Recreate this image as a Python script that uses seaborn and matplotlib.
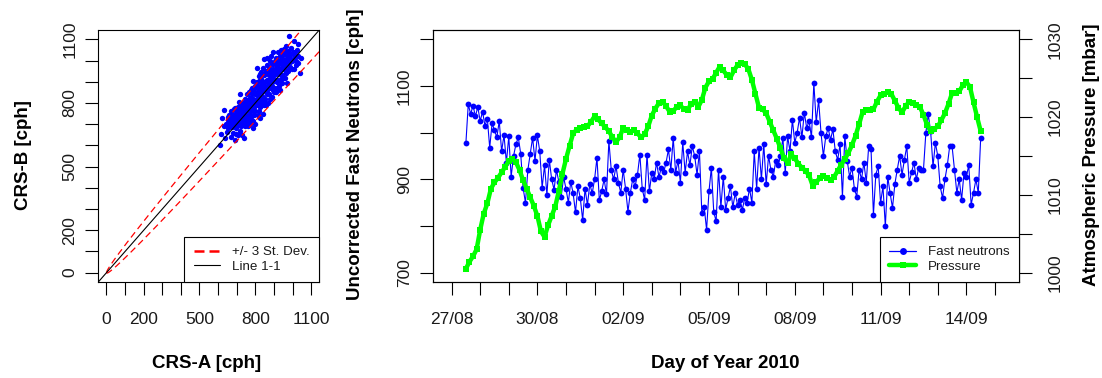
import numpy as np
import pandas as pd
import matplotlib
matplotlib.use("Agg")
import matplotlib.pyplot as plt
import matplotlib.dates as mdates
from matplotlib.lines import Line2D
import seaborn as sns

# ------------------------------------------------------------------ data
# scatter: CRS-A vs CRS-B counts [cph]
crs_a = [609, 622, 630, 639, 615, 645, 632, 648,
         652, 655, 660, 663, 668, 670, 672, 675, 678, 681, 684, 687, 690, 692, 695, 697, 699, 694,
         701, 703, 705, 707, 709, 711, 713, 715, 717, 719, 720, 722, 724, 726, 728, 730, 732, 734,
         737, 739, 741, 743, 745, 747, 749,
         751, 752, 754, 756, 758, 760, 762, 764, 766, 768, 770, 771, 773, 775, 777, 779, 781, 783,
         785, 787, 789, 790, 792, 794, 795, 797, 798, 799, 776, 786,
         801, 803, 805, 807, 809, 811, 813, 815, 817, 819, 821, 823, 825, 827, 829, 831, 833, 835,
         837, 839, 841, 843, 845, 846, 847, 848, 849, 842, 826, 834, 812, 818,
         851, 853, 855, 857, 859, 861, 863, 865, 867, 869, 871, 873, 875, 877, 879, 880, 882, 884,
         886, 888, 890, 892, 894, 896, 898, 899, 862, 872, 885, 893,
         901, 903, 905, 907, 909, 911, 913, 915, 917, 919, 921, 923, 925, 927, 929, 931, 933, 935,
         937, 939, 941, 943, 945, 947, 949,
         952, 954, 956, 958, 960, 962, 964, 966, 968, 970, 972, 975, 978, 979, 982, 985, 990, 995,
         1002, 1006, 1010, 1015, 1020, 1025, 1032, 1041, 1048, 1030,
         655, 662, 667, 674, 679, 683, 688, 693, 698, 702, 706, 710, 714, 718, 721, 725, 729, 733,
         736, 740, 744, 748, 753, 757, 761, 765, 769, 772, 776, 780, 784, 788, 791, 796, 800, 804,
         808, 812, 816, 820, 824, 828, 832, 836, 840, 844, 848, 852, 856, 860, 864, 868, 872, 876,
         880, 884, 888, 892, 896, 900, 904, 908, 912, 916, 920, 924, 928, 932, 936, 940, 944, 948,
         953, 957, 961, 965, 969, 974, 980, 986, 992, 998, 1004, 1012, 1018, 1028]
crs_b = [600, 730, 769, 635, 655, 700, 690, 662,
         720, 680, 745, 700, 640, 760, 710, 685, 735, 660, 770, 715, 627, 745, 700, 680, 760, 655,
         725, 690, 780, 650, 745, 700, 805, 720, 670, 760, 840, 735, 690, 780, 710, 650, 800, 745,
         635, 770, 715, 820, 690, 760, 735,
         800, 705, 780, 840, 730, 690, 810, 760, 715, 850, 790, 745, 700, 830, 770, 735, 870, 800,
         680, 760, 820, 715, 850, 780, 745, 880, 700, 810, 860, 905,
         760, 840, 790, 900, 966, 820, 745, 870, 800, 760, 850, 910, 780, 730, 880, 820, 945, 790,
         860, 750, 900, 830, 1006, 870, 790, 930, 810, 965, 935, 890, 875, 925,
         880, 820, 950, 860, 790, 910, 840, 980, 870, 800, 930, 890, 840, 1000, 900, 817, 950, 870,
         920, 830, 985, 900, 860, 960, 910, 850, 1010, 960, 1020, 1040,
         930, 870, 990, 910, 850, 960, 1010, 900, 870, 980, 940, 1040, 880, 960, 1000, 910, 860, 990,
         1050, 930, 895, 1010, 960, 1030, 920,
         1053, 960, 1000, 920, 1030, 980, 1070, 940, 1010, 895, 990, 1045, 950, 1116, 1020, 970, 1060, 1000,
         1040, 960, 1090, 1021, 980, 1050, 990, 943, 1010, 1080,
         735, 690, 725, 755, 700, 745, 690, 775, 730, 760, 715, 770, 745, 700, 790, 755, 725, 775,
         700, 790, 750, 800, 770, 815, 740, 790, 825, 760, 805, 845, 775, 860, 800, 840, 875, 815,
         850, 790, 900, 835, 870, 805, 915, 850, 880, 820, 900, 935, 875, 905, 850, 940, 910, 870,
         960, 900, 935, 880, 985, 905, 950, 1000, 935, 975, 910, 1000, 945, 1020, 960, 985, 930, 1000,
         975, 1035, 955, 1000, 1040, 975, 1010, 995, 1030, 960, 1005, 1040, 1000, 1020]
n_std = 3  # +/- 3 standard deviations, Poisson sigma = sqrt(N)

# time series: uncorrected fast neutrons [cph], every 2 h from 27/08/2010 12:00
neutron_start = "2010-08-27 12:00"
neutron_freq = "2h"
fast_neutrons = [
    977, 1061, 1040, 1058, 1035, 1055, 1025, 1045, 1015, 1030, 968, 1020,
    1005, 990, 1025, 960, 995, 936, 992, 906, 950, 975, 990, 955,
    882, 850, 920, 955, 989, 940, 994, 960, 882, 930, 867, 942,
    900, 878, 920, 895, 863, 905, 880, 850, 895, 870, 829, 885,
    860, 813, 880, 845, 890, 870, 900, 946, 855, 875, 900, 868,
    982, 920, 900, 928, 893, 871, 921, 880, 831, 871, 900, 885,
    910, 953, 880, 856, 953, 874, 914, 900, 936, 905, 925, 915,
    936, 964, 920, 989, 914, 940, 893, 979, 914, 960, 930, 971,
    950, 910, 960, 828, 840, 792, 874, 925, 830, 810, 921, 840,
    906, 835, 860, 885, 840, 870, 845, 856, 835, 860, 850, 880,
    850, 960, 880, 968, 900, 975, 889, 950, 920, 906, 940, 930,
    950, 989, 914, 992, 960, 1028, 978, 1000, 1032, 990, 1043, 1010,
    1025, 990, 1106, 1022, 1070, 1000, 950, 992, 1010, 985, 1007, 960,
    942, 975, 863, 992, 940, 906, 925, 880, 863, 921, 900, 936,
    893, 971, 964, 824, 910, 928, 849, 885, 799, 906, 870, 839,
    890, 921, 950, 910, 942, 971, 893, 915, 936, 900, 925, 921,
    921, 1000, 1039, 1003, 928, 978, 950, 885, 860, 900, 930, 971,
    971, 921, 871, 900, 856, 914, 906, 930, 846, 871, 900, 871,
    989]

# atmospheric pressure [mbar], every 3 h from 27/08/2010 12:00
pressure_start = "2010-08-27 12:00"
pressure_freq = "3h"
pressure = [
    1000.5, 1001.4, 1002.1, 1003.0, 1005.5, 1007.6, 1008.9, 1010.8,
    1011.6, 1012.2, 1012.9, 1013.6, 1014.4, 1014.6, 1014.2, 1013.2,
    1011.9, 1010.8, 1009.7, 1008.6, 1007.3, 1005.3, 1004.6, 1006.1,
    1007.3, 1008.5, 1010.5, 1012.7, 1014.6, 1016.3, 1017.9, 1018.4,
    1018.6, 1018.7, 1018.8, 1019.4, 1020.1, 1019.7, 1019.2, 1018.7,
    1018.2, 1017.4, 1016.8, 1017.4, 1018.6, 1018.3, 1018.1, 1018.3,
    1017.9, 1017.4, 1017.8, 1018.8, 1020.2, 1021.1, 1021.8, 1022.0,
    1021.4, 1020.7, 1020.8, 1021.3, 1021.5, 1021.0, 1020.9, 1021.7,
    1022.0, 1021.3, 1022.2, 1023.8, 1024.6, 1024.9, 1025.7, 1026.5,
    1026.0, 1025.4, 1025.1, 1026.0, 1026.7, 1026.9, 1026.8, 1026.2,
    1024.8, 1023.0, 1021.2, 1021.0, 1020.5, 1019.4, 1018.3, 1017.2,
    1016.0, 1014.7, 1014.1, 1015.2, 1014.7, 1014.0, 1013.5, 1013.1,
    1012.5, 1011.2, 1011.6, 1012.2, 1012.4, 1012.2, 1011.9, 1012.3,
    1013.1, 1013.9, 1014.6, 1015.4, 1016.4, 1017.6, 1019.1, 1020.7,
    1020.9, 1020.9, 1021.0, 1022.0, 1022.8, 1023.0, 1023.2, 1023.0,
    1022.1, 1021.2, 1020.6, 1021.4, 1022.0, 1021.8, 1021.6, 1021.3,
    1020.3, 1019.0, 1018.2, 1018.5, 1018.8, 1019.6, 1020.5, 1021.7,
    1023.1, 1023.1, 1023.3, 1024.1, 1024.5, 1023.9, 1021.9, 1020.0,
    1018.2]

# axis ticks / labels
scatter_ticks = list(range(0, 1200, 100))
scatter_tick_labels = ["0", "", "200", "", "", "500", "", "", "800", "", "", "1100"]
neutron_ticks = [700, 800, 900, 1000, 1100, 1200]
neutron_tick_labels = ["700", "", "900", "", "1100", ""]
pressure_ticks = [1000, 1005, 1010, 1015, 1020, 1025, 1030]
pressure_tick_labels = ["1000", "", "1010", "", "1020", "", "1030"]
date_ticks = pd.date_range("2010-08-27", "2010-09-15", freq="D")
date_tick_labels = [d.strftime("%d/%m") if i % 3 == 0 else "" for i, d in enumerate(date_ticks)]
legend_left_labels = ["+/- 3 St. Dev.", "Line 1-1"]
legend_right_labels = ["Fast neutrons", "Pressure"]

# ------------------------------------------------------------------ style
sns.set_theme(style="white")
plt.rcParams["font.family"] = ["Liberation Sans", "DejaVu Sans"]
plt.rcParams.update({
    "axes.edgecolor": "black",
    "axes.linewidth": 0.8,
    "xtick.color": "black",
    "ytick.color": "black",
})

BLUE = "#0000FF"
GREEN = "#00FF00"
RED = "#FF0000"
TICK_FS = 12.5
LABEL_FS = 13.5
LEG_FS = 9.6
TICK_LEN = 9.4
TXT = "#1a1a1a"

W, H = 1102, 378
fig = plt.figure(figsize=(W / 100, H / 100), dpi=100)


def px_rect(x0, y0, x1, y1):
    return [x0 / W, 1 - y1 / H, (x1 - x0) / W, (y1 - y0) / H]


ax1 = fig.add_axes(px_rect(98.3, 30, 319.3, 282))
ax2 = fig.add_axes(px_rect(432.7, 30, 1019, 282))

# ------------------------------------------------------------------ left panel
sns.scatterplot(x=crs_a, y=crs_b, ax=ax1, color=BLUE, s=15, linewidth=0,
                legend=False, zorder=2)
a_curve = np.linspace(0, 1200, 400)
ax1.plot(a_curve, a_curve + n_std * np.sqrt(a_curve), color=RED, lw=0.9,
         dashes=(5.3, 3.3), zorder=3)
ax1.plot(a_curve, a_curve - n_std * np.sqrt(a_curve), color=RED, lw=0.9,
         dashes=(5.3, 3.3), zorder=3)
ax1.axline((0, 0), (1, 1), color="black", lw=0.8, zorder=4)
ax1.set_xlim(-44, 1144)
ax1.set_ylim(-44, 1144)
ax1.set_xticks(scatter_ticks)
ax1.set_xticklabels(scatter_tick_labels)
ax1.set_yticks(scatter_ticks)
ax1.set_yticklabels(scatter_tick_labels)

leg_h1 = [Line2D([], [], color=RED, lw=1.8, dashes=(4, 2)),
          Line2D([], [], color="black", lw=0.8)]
leg1 = ax1.legend(leg_h1, legend_left_labels, loc="lower right", bbox_to_anchor=(1, 0),
                  borderaxespad=0, fontsize=LEG_FS, handlelength=2.0, handletextpad=0.9,
                  borderpad=0.7, labelspacing=0.15, fancybox=False, framealpha=1,
                  edgecolor="black", frameon=True)
leg1.get_frame().set_linewidth(0.8)
for t in leg1.get_texts():
    t.set_color(TXT)

# ------------------------------------------------------------------ right panel
df_n = pd.DataFrame({"time": pd.date_range(neutron_start, periods=len(fast_neutrons),
                                           freq=neutron_freq),
                     "neutrons": fast_neutrons})
df_p = pd.DataFrame({"time": pd.date_range(pressure_start, periods=len(pressure),
                                           freq=pressure_freq),
                     "pressure": pressure})

sns.lineplot(data=df_n, x="time", y="neutrons", ax=ax2, color=BLUE, lw=0.8,
             marker="o", markersize=4.2, markeredgewidth=0, estimator=None)
ax3 = ax2.twinx()
sns.lineplot(data=df_p, x="time", y="pressure", ax=ax3, color=GREEN, lw=3.2,
             marker="s", markersize=4.2, markeredgewidth=0, estimator=None)

t0 = pd.Timestamp("2010-08-27")
ax2.set_xlim(mdates.date2num(t0 + pd.Timedelta(days=-0.66)),
             mdates.date2num(t0 + pd.Timedelta(days=19.84)))
ax2.set_ylim(680, 1220)
ax3.set_ylim(998.8, 1031.2)
ax2.set_xticks(mdates.date2num(date_ticks))
ax2.set_xticklabels(date_tick_labels)
ax2.set_yticks(neutron_ticks)
ax2.set_yticklabels(neutron_tick_labels)
ax3.set_yticks(pressure_ticks)
ax3.set_yticklabels(pressure_tick_labels)
for a in (ax1, ax2, ax3):
    a.set_xlabel("")
    a.set_ylabel("")

leg_h2 = [Line2D([], [], color=BLUE, lw=0.9, marker="o", markersize=5, markeredgewidth=0),
          Line2D([], [], color=GREEN, lw=3.2, marker="s", markersize=4.5, markeredgewidth=0)]
leg2 = ax3.legend(leg_h2, legend_right_labels, loc="lower right", bbox_to_anchor=(1, 0),
                  borderaxespad=0, fontsize=LEG_FS, handlelength=2.0, handletextpad=0.9,
                  borderpad=0.7, labelspacing=0.15, fancybox=False, framealpha=1,
                  edgecolor="black", frameon=True)
leg2.get_frame().set_linewidth(0.8)
for t in leg2.get_texts():
    t.set_color(TXT)

# ------------------------------------------------------------------ ticks
for a in (ax1, ax2, ax3):
    a.tick_params(direction="out", length=TICK_LEN, width=0.8, labelsize=TICK_FS,
                  labelcolor=TXT)
    for s in a.spines.values():
        s.set_color("black")
        s.set_linewidth(0.8)
ax1.tick_params(axis="x", bottom=True, top=False, pad=11.9)
ax2.tick_params(axis="x", bottom=True, top=False, pad=11.9)
ax1.tick_params(axis="y", left=True, right=False, pad=5.5, labelrotation=90)
ax2.tick_params(axis="y", left=True, right=False, pad=5.5, labelrotation=90)
ax3.tick_params(axis="y", left=False, right=True, labelleft=False, labelright=True,
                pad=11.5, labelrotation=90)
for a in (ax1, ax2, ax3):
    for lbl in a.get_yticklabels():
        lbl.set_verticalalignment("center")

# ------------------------------------------------------------------ axis titles
def ftext(x, y, s, rot=0):
    fig.text(x / W, 1 - y / H, s, ha="center", va="center", rotation=rot,
             fontsize=LABEL_FS, fontweight="bold", color="black")


ftext(23.5, 155, "CRS-B [cph]", 90)
ftext(207, 364, "CRS-A [cph]")
ftext(355.5, 154, "Uncorrected Fast Neutrons [cph]", 90)
ftext(725, 364, "Day of Year 2010")
ftext(1091, 155, "Atmospheric Pressure [mbar]", 90)

fig.savefig("out.png", dpi=100)
